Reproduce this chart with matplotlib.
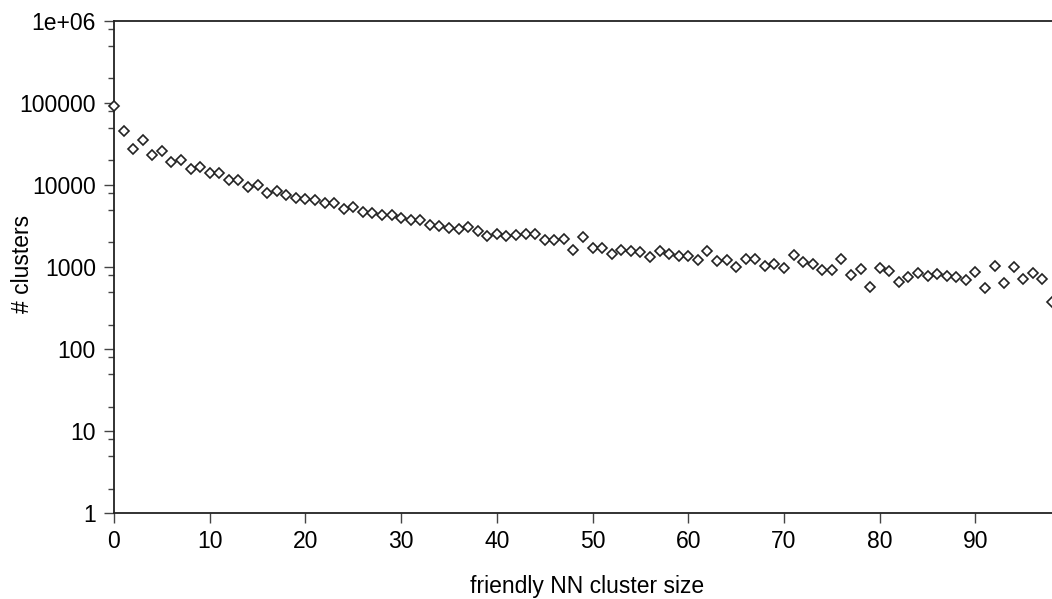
import matplotlib
matplotlib.use("Agg")
import matplotlib.pyplot as plt
from matplotlib.ticker import LogLocator, NullFormatter, FixedLocator

plt.rcParams['font.family'] = ['Liberation Sans', 'DejaVu Sans']

cluster_size = list(range(0, 99))
n_clusters = [
    92700, 45900, 27700, 35000, 22950, 26400, 19060, 20360, 15800, 16400,
    13850, 14130, 11500, 11600, 9540, 10000, 7980, 8450, 7680, 6870,
    6810, 6560, 5970, 6020, 5160, 5390, 4720, 4590, 4340, 4300,
    3960, 3740, 3740, 3250, 3190, 3010, 2900, 3100, 2770, 2390,
    2550, 2410, 2480, 2550, 2550, 2130, 2170, 2190, 1635, 2320,
    1690, 1690, 1465, 1610, 1580, 1510, 1347, 1593, 1440, 1373,
    1386, 1228, 1580, 1203, 1216, 1016, 1262, 1262, 1046, 1107,
    972, 1400, 1161, 1087, 935, 927, 1262, 813, 945, 570,
    980, 910, 667, 767, 859, 776, 836, 783, 755, 706,
    877, 554, 1046, 649, 1000, 714, 845, 726, 374,
]
x_ticks = [0, 10, 20, 30, 40, 50, 60, 70, 80, 90]
y_ticks = [1, 10, 100, 1000, 10000, 100000, 1000000]
y_tick_labels = ["1", "10", "100", "1000", "10000", "100000", "1e+06"]

W, H = 1052, 599
fig = plt.figure(figsize=(W / 100, H / 100), dpi=100)
ax = fig.add_axes([114 / W, (H - 513.3) / H, (1052 - 114) / W, (513.3 - 21) / H])

ax.plot(cluster_size, n_clusters, linestyle='none', marker='D', markersize=5.5,
        markerfacecolor='white', markeredgecolor='#222222', markeredgewidth=1.2,
        clip_on=False, zorder=3)

ax.set_yscale('log')
ax.set_xlim(0, 98)
ax.set_ylim(1, 1e6)
ax.xaxis.set_major_locator(FixedLocator(x_ticks))
ax.set_xticklabels([str(t) for t in x_ticks])
ax.yaxis.set_major_locator(FixedLocator(y_ticks))
ax.set_yticklabels(y_tick_labels)
ax.yaxis.set_minor_locator(LogLocator(base=10, subs=[2, 5, 8], numticks=20))
ax.yaxis.set_minor_formatter(NullFormatter())

for s in ['right']:
    ax.spines[s].set_visible(False)
for s in ['left', 'bottom', 'top']:
    ax.spines[s].set_linewidth(1.3)
    ax.spines[s].set_color('#222222')

ax.tick_params(axis='x', which='major', direction='out', length=7, width=1,
               color='#444444', labelsize=16.5, pad=5)
ax.tick_params(axis='y', which='major', direction='out', length=7, width=1,
               color='#444444', labelsize=16.5, pad=6)
ax.tick_params(axis='y', which='minor', direction='out', length=4, width=1, color='#444444')
ax.tick_params(axis='x', which='minor', bottom=False)

fig.text(23 / W, 1 - 264 / H, '# clusters', fontsize=16.5, rotation=90,
         ha='center', va='center')
fig.text(587 / W, 1 - 587 / H, 'friendly NN cluster size', fontsize=16.5,
         ha='center', va='center')

fig.savefig('out.png', dpi=100)
